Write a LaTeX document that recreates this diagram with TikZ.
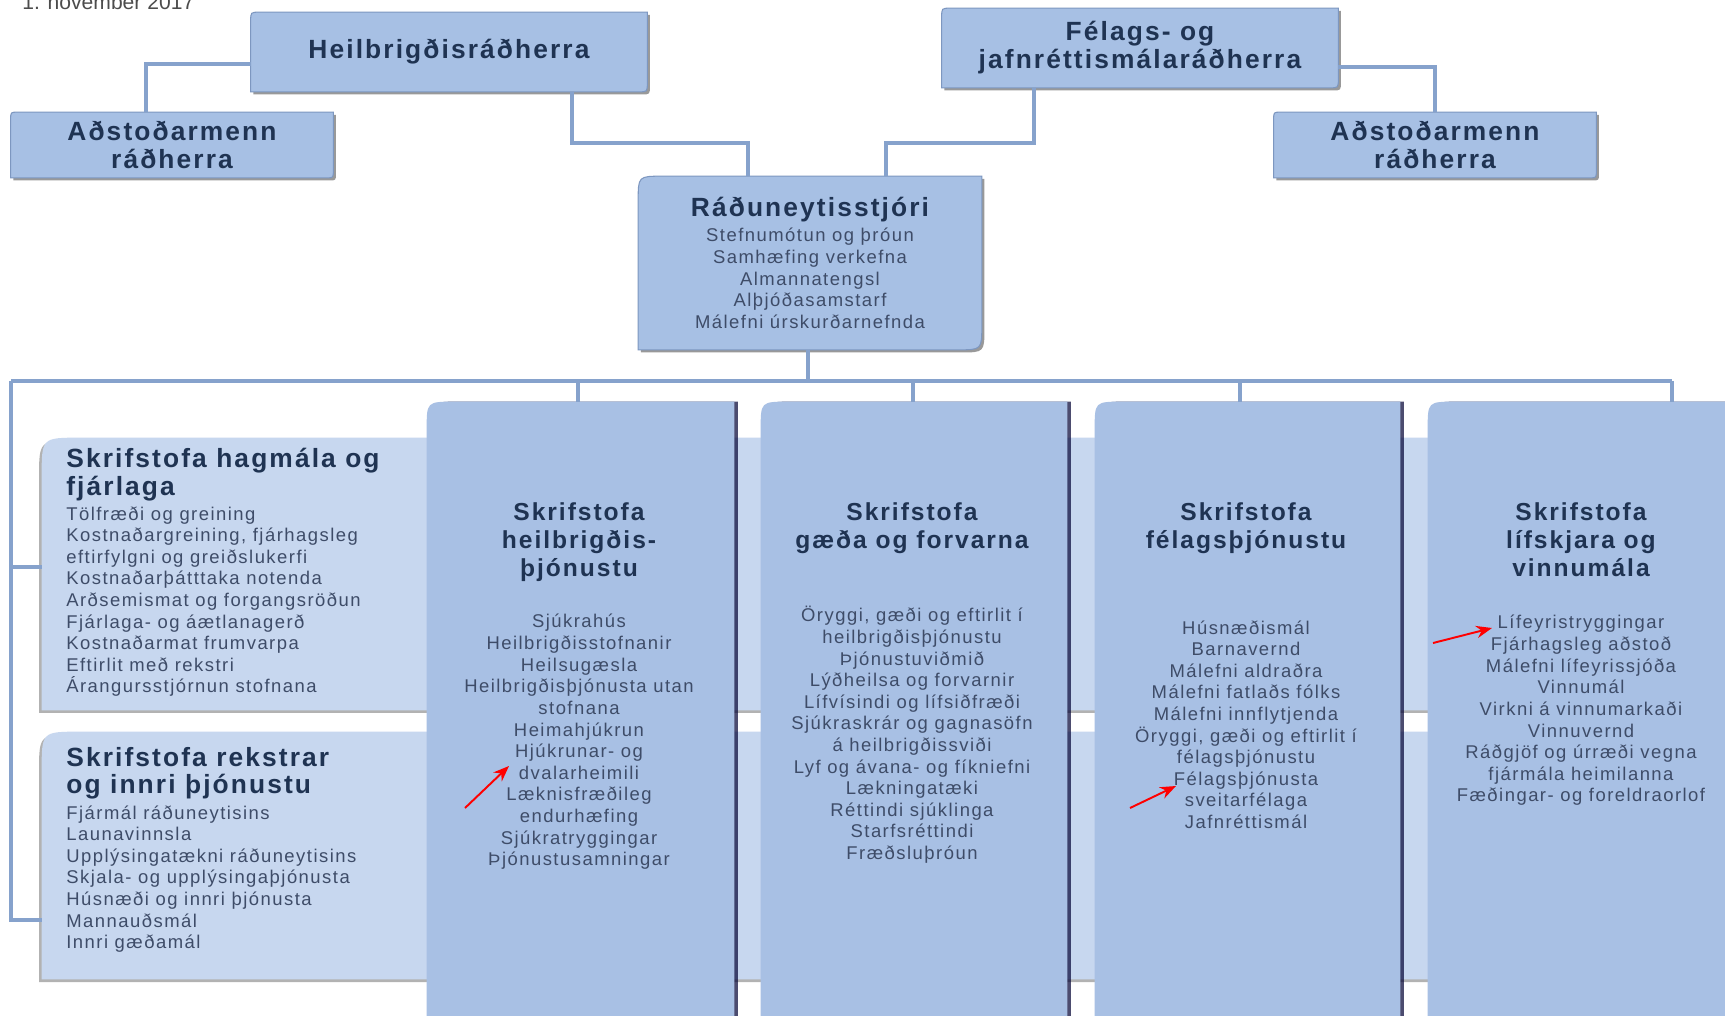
\documentclass[tikz,border=0pt]{standalone}
\usepackage{fontspec}
\setmainfont{Liberation Sans}
\newfontfamily\bodyfont[LetterSpace=8]{Liberation Sans}
\usetikzlibrary{positioning,fit,shadows,backgrounds,arrows.meta}
\definecolor{boxblue}{HTML}{A7C0E4}
\definecolor{bandblue}{HTML}{C7D7EF}
\definecolor{colblue}{HTML}{A8C0E4}
\definecolor{linkblue}{HTML}{86A2CC}
\definecolor{navy}{HTML}{1F3352}
\definecolor{listgrey}{HTML}{3E4C68}
\definecolor{edgeblue}{HTML}{7D97C0}
\newcommand{\orghead}{\bodyfont\bfseries\fontsize{15}{16}\selectfont}
\newcommand{\orgtitle}{\bodyfont\bfseries\fontsize{14}{16}\selectfont}
\newcommand{\bandtitle}{\bodyfont\bfseries\fontsize{15}{15.6}\selectfont}
\newcommand{\orglist}{\bodyfont\fontsize{10.5}{12.3}\selectfont}
% box with rounded top-left and bottom-right corners, behind a node
\newcommand{\diagfill}[3]{%
  \path[#3] (#1.south west) -- ([yshift=-#2]#1.north west)
    .. controls (#1.north west) .. ([xshift=#2]#1.north west)
    -- (#1.north east) -- ([yshift=#2]#1.south east)
    .. controls (#1.south east) .. ([xshift=-#2]#1.south east) -- cycle;}
\tikzstyle{topbox}=[
inner sep=0pt,
minimum width=7.92cm,
minimum height=1.58cm,
font=\orghead,
text=navy,
align=center
]
\tikzstyle{aidbox}=[topbox, minimum width=6.44cm, minimum height=1.3cm]
\tikzstyle{area}=[inner sep=0pt]
\tikzstyle{coltitle}=[anchor=north, inner sep=0pt, font=\orgtitle, text=navy, align=center]
\tikzstyle{collist}=[anchor=north, inner sep=0pt, font=\orglist, text=listgrey, align=center]
\tikzstyle{bandhead}=[anchor=north west, inner sep=0pt, font=\bandtitle, text=navy, align=left]
\tikzstyle{bandlist}=[anchor=north west, inner sep=0pt, font=\orglist, text=listgrey, align=left]
\tikzstyle{link} = [draw=linkblue, line width=2.2pt]
\tikzstyle{pointer} = [draw=red, line width=1.1pt, -{Stealth[length=9pt,width=7pt]}]
\tikzstyle{shade} = [fill=boxblue, draw=edgeblue, line width=0.6pt, drop shadow={shadow xshift=1.5pt, shadow yshift=-1.5pt, opacity=0.4, fill=black}]
\tikzstyle{colshade} = [fill=colblue, drop shadow={shadow xshift=2pt, shadow yshift=0pt, opacity=0.7, fill=black!80!blue}]
\tikzstyle{bandshade} = [fill=bandblue, drop shadow={shadow xshift=-1.5pt, shadow yshift=-1.5pt, opacity=0.3, fill=black}]

\begin{document}
\begin{tikzpicture}[x=0.02cm, y=-0.02cm]
\useasboundingbox (0,0) rectangle (1725,1015);

\node[anchor=base west, inner sep=0pt, font=\fontsize{12}{14}\selectfont, text=black!70] (date) at (22,9) {1. nóvember 2017};

% ministers and assistants
\node[topbox] (heil) at (449,52) {Heilbrigðisráðherra};
\node[topbox] (fel) at (1140,48) {Félags- og\\ jafnréttismálaráðherra};
\node[aidbox] (aid1) at (172,145) {Aðstoðarmenn\\ ráðherra};
\node[aidbox] (aid2) at (1435,145) {Aðstoðarmenn\\ ráðherra};

\node[inner sep=0pt, minimum width=6.86cm, minimum height=3.46cm, align=center, font=\orglist, text=listgrey] (rstj) at (810,263)
  {{\orghead\color{navy}Ráðuneytisstjóri}\\[2pt]
   Stefnumótun og þróun\\ Samhæfing verkefna\\ Almannatengsl\\ Alþjóðasamstarf\\ Málefni úrskurðarnefnda};

% offices
\node[area, fit={(42,438) (1760,710)}] (band1) {};
\node[area, fit={(42,732) (1760,979)}] (band2) {};
\foreach \n/\a/\b in {col2/427/734, col3/761/1067, col4/1095/1400, col5/1428/1735}
  \node[area, fit={(\a,402) (\b,1060)}] (\n) {};

\begin{scope}[on background layer]
  \fill[white] (0,0) rectangle (1725,1015);
  \diagfill{band1}{22pt}{bandshade}
  \diagfill{band2}{22pt}{bandshade}
  \foreach \n in {col2,col3,col4,col5} {\diagfill{\n}{16pt}{colshade}}
  \diagfill{heil}{5pt}{shade}
  \diagfill{fel}{5pt}{shade}
  \diagfill{aid1}{4pt}{shade}
  \diagfill{aid2}{4pt}{shade}
  \diagfill{rstj}{14pt}{shade}
\end{scope}

\node[bandhead] (band1t) at (66,448) {Skrifstofa hagmála og\\ fjárlaga};
\node[bandlist] (band1l) at (66,506) {Tölfræði og greining\\ Kostnaðargreining, fjárhagsleg\\ eftirfylgni og greiðslukerfi\\ Kostnaðarþátttaka notenda\\ Arðsemismat og forgangsröðun\\ Fjárlaga- og áætlanagerð\\ Kostnaðarmat frumvarpa\\ Eftirlit með rekstri\\ Árangursstjórnun stofnana};
\node[bandhead] (band2t) at (66,747) {Skrifstofa rekstrar\\ og innri þjónustu};
\node[bandlist] (band2l) at (66,805) {Fjármál ráðuneytisins\\ Launavinnsla\\ Upplýsingatækni ráðuneytisins\\ Skjala- og upplýsingaþjónusta\\ Húsnæði og innri þjónusta\\ Mannauðsmál\\ Innri gæðamál};

\node[coltitle] (col2t) at (579,502) {Skrifstofa\\ heilbrigðis-\\ þjónustu};
\node[collist] (col2l) at (579,614) {Sjúkrahús\\ Heilbrigðisstofnanir\\ Heilsugæsla\\ Heilbrigðisþjónusta utan\\ stofnana\\ Heimahjúkrun\\ Hjúkrunar- og\\ dvalarheimili\\ Læknisfræðileg\\ endurhæfing\\ Sjúkratryggingar\\ Þjónustusamningar};
\node[coltitle] (col3t) at (912,502) {Skrifstofa\\ gæða og forvarna};
\node[collist] (col3l) at (912,606) {Öryggi, gæði og eftirlit í\\ heilbrigðisþjónustu\\ Þjónustuviðmið\\ Lýðheilsa og forvarnir\\ Lífvísindi og lífsiðfræði\\ Sjúkraskrár og gagnasöfn\\ á heilbrigðissviði\\ Lyf og ávana- og fíkniefni\\ Lækningatæki\\ Réttindi sjúklinga\\ Starfsréttindi\\ Fræðsluþróun};
\node[coltitle] (col4t) at (1246,502) {Skrifstofa\\ félagsþjónustu};
\node[collist] (col4l) at (1246,620) {Húsnæðismál\\ Barnavernd\\ Málefni aldraðra\\ Málefni fatlaðs fólks\\ Málefni innflytjenda\\ Öryggi, gæði og eftirlit í\\ félagsþjónustu\\ Félagsþjónusta\\ sveitarfélaga\\ Jafnréttismál};
\node[coltitle] (col5t) at (1581,502) {Skrifstofa\\ lífskjara og\\ vinnumála};
\node[collist] (col5l) at (1581,615) {Lífeyristryggingar\\ Fjárhagsleg aðstoð\\ Málefni lífeyrissjóða\\ Vinnumál\\ Virkni á vinnumarkaði\\ Vinnuvernd\\ Ráðgjöf og úrræði vegna\\ fjármála heimilanna\\ Fæðingar- og foreldraorlof};

% connectors
\coordinate (hbend) at (572,143);
\coordinate (rbendL) at (748,143);
\coordinate (fbend) at (1034,143);
\coordinate (rbendR) at (886,143);
\coordinate (hub) at (808,381);
\coordinate (barL) at (11,381);
\coordinate (barR) at (1672,381);

\draw[link] ([yshift=-7pt]heil.west) -| ([xshift=-15pt]aid1.north);
\draw[link] ([yshift=-11pt]fel.east) -| (aid2.north);
\draw[link] (heil.south -| hbend) -- (hbend) -- (rbendL) -- (rstj.north -| rbendL);
\draw[link] (fel.south -| fbend) -- (fbend) -- (rbendR) -- (rstj.north -| rbendR);
\draw[link] (rstj.south -| hub) -- (hub);
\draw[link] (barL) -- (barR);
\foreach \n/\x in {col2/578, col3/913, col4/1240, col5/1672}
  \draw[link] (barL -| \x,0) -- (\n.north -| \x,0);
\draw[link] (barL) |- (band2.west |- 0,920);
\draw[link] (barL |- 0,567) -- (band1.west |- 0,567);

% red markers
\coordinate (p1s) at (465,808);
\coordinate (p1e) at (509,766);
\coordinate (p2s) at (1130,808);
\coordinate (p2e) at (1176,786);
\coordinate (p3s) at (1433,643);
\coordinate (p3e) at (1492,628);
\draw[pointer] (p1s) -- (p1e);
\draw[pointer] (p2s) -- (p2e);
\draw[pointer] (p3s) -- (p3e);

\end{tikzpicture}
\end{document}
